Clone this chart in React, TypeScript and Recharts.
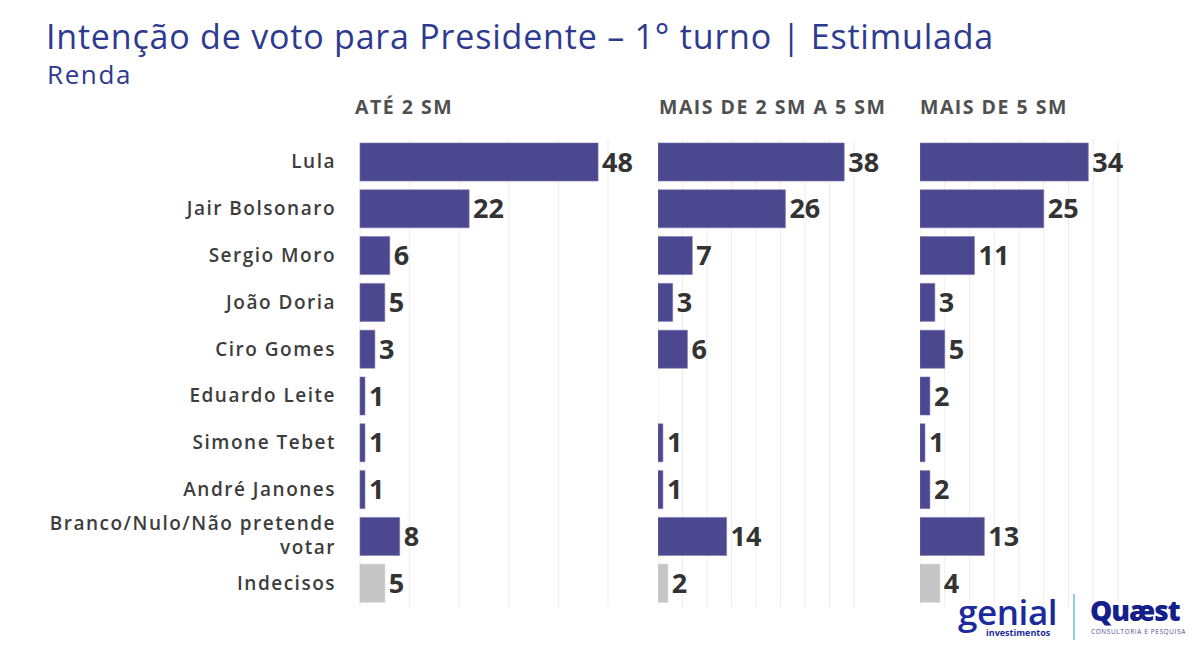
import React from "react"
import { Bar, BarChart, CartesianGrid, Cell, LabelList, XAxis, YAxis } from "recharts"

const candidates = [
  "Lula",
  "Jair Bolsonaro",
  "Sergio Moro",
  "João Doria",
  "Ciro Gomes",
  "Eduardo Leite",
  "Simone Tebet",
  "André Janones",
  "Branco/Nulo/Não pretende votar",
  "Indecisos",
]

const ate2sm = [48, 22, 6, 5, 3, 1, 1, 1, 8, 5]
const de2a5sm = [38, 26, 7, 3, 6, null, 1, 1, 14, 2]
const mais5sm = [34, 25, 11, 3, 5, 2, 1, 2, 13, 4]

const panelTitles = ["ATÉ 2 SM", "MAIS DE 2 SM A 5 SM", "MAIS DE 5 SM"]
const ticks10 = [0, 10, 20, 30, 40, 50]
const ticks5 = [0, 5, 10, 15, 20, 25, 30, 35, 40]

const BAR = "#4b4890"
const GRAY_BAR = "#c6c6c6"
const FONT = "'Open Sans', sans-serif"

const toRows = (values: (number | null)[]) =>
  candidates.map((name, i) => ({ name, value: values[i] }))

// category labels, the long one is split in two lines
function CandidateTick({ x, y, payload }: any) {
  const label: string = payload.value
  const style = { fontFamily: FONT, fontSize: 19, fontWeight: 600, fill: "#3d3d3d", letterSpacing: 1.5 }
  if (label.startsWith("Branco")) {
    return (
      <text x={x} y={y} textAnchor="end" style={style}>
        <tspan x={x} dy={-7}>Branco/Nulo/Não pretende</tspan>
        <tspan x={x} dy={24}>votar</tspan>
      </text>
    )
  }
  return (
    <text x={x} y={y} dy={6} textAnchor="end" style={style}>
      {label}
    </text>
  )
}

type PanelProps = {
  values: (number | null)[]
  max: number
  ticks: number[]
  plotWidth: number
  withLabels?: boolean
}

function Panel({ values, max, ticks, plotWidth, withLabels }: PanelProps) {
  const axisWidth = withLabels ? 360 : 0
  const rightMargin = 54
  const data = toRows(values)
  return (
    <BarChart
      layout="vertical"
      width={axisWidth + plotWidth + rightMargin}
      height={468}
      data={data}
      margin={{ top: 0, right: rightMargin, left: 0, bottom: 0 }}
    >
      <CartesianGrid horizontal={false} stroke="#ededed" />
      <XAxis type="number" domain={[0, max]} ticks={ticks} hide />
      <YAxis
        type="category"
        dataKey="name"
        width={axisWidth}
        hide={!withLabels}
        axisLine={false}
        tickLine={false}
        tickSize={0}
        tickMargin={24}
        interval={0}
        tick={<CandidateTick />}
      />
      <Bar dataKey="value" barSize={38} isAnimationActive={false} strokeWidth={0.6}>
        {data.map((d) => (
          <Cell key={d.name} fill={d.name === "Indecisos" ? GRAY_BAR : BAR} stroke={d.name === "Indecisos" ? GRAY_BAR : "#7773b0"} />
        ))}
        <LabelList
          dataKey="value"
          position="right"
          offset={4}
          formatter={(v: any) => (v == null ? "" : v)}
          style={{ fontFamily: FONT, fontSize: 27, fontWeight: 700, fill: "#333333" }}
        />
      </Bar>
    </BarChart>
  )
}

export default function App() {
  return (
    <div style={{ position: "absolute", left: 0, top: 0, width: 1200, height: 655, background: "#fff", overflow: "hidden" }}>
      <div style={{ position: "absolute", left: 46, top: 13, fontFamily: FONT, fontSize: 34, color: "#2e3a8f", whiteSpace: "nowrap", letterSpacing: 0.8 }}>
        Intenção de voto para Presidente – 1° turno | Estimulada
      </div>
      <div style={{ position: "absolute", left: 47, top: 56, fontFamily: FONT, fontSize: 26, color: "#2e3a8f", letterSpacing: 1.6 }}>Renda</div>

      {panelTitles.map((t, i) => (
        <div
          key={t}
          style={{
            position: "absolute",
            left: [355, 659, 920][i],
            top: 93,
            fontFamily: FONT,
            fontSize: 19.5,
            fontWeight: 700,
            color: "#505050",
            letterSpacing: 1.5,
            whiteSpace: "nowrap",
          }}
        >
          {t}
        </div>
      ))}

      <div style={{ position: "absolute", left: 0, top: 139 }}>
        <Panel values={ate2sm} max={50} ticks={ticks10} plotWidth={248} withLabels />
      </div>
      <div style={{ position: "absolute", left: 658, top: 139 }}>
        <Panel values={de2a5sm} max={40} ticks={ticks5} plotWidth={196} />
      </div>
      <div style={{ position: "absolute", left: 920, top: 139 }}>
        <Panel values={mais5sm} max={40} ticks={ticks5} plotWidth={198} />
      </div>

      {/* logos */}
      <svg style={{ position: "absolute", left: 950, top: 585 }} width={120} height={60}>
        <text fontFamily={FONT} fill="#1b2a9c">
          <tspan x={8} y={40} fontSize={35} fontWeight={600} letterSpacing={-0.4}>genial</tspan>
          <tspan x={36} y={51} fontSize={9} fontWeight={700}>investimentos</tspan>
        </text>
      </svg>
      <div style={{ position: "absolute", left: 1073, top: 594, width: 1.5, height: 46, background: "#8fd0d8" }} />
      <div style={{ position: "absolute", left: 1090, top: 597, fontFamily: FONT, fontSize: 28, fontWeight: 800, color: "#14208a", lineHeight: "26px", letterSpacing: -1 }}>
        Quæst
      </div>
      <div style={{ position: "absolute", left: 1091, top: 627, fontFamily: FONT, fontSize: 6.5, color: "#4a5290", letterSpacing: 0.6, whiteSpace: "nowrap", lineHeight: "9px" }}>
        CONSULTORIA E PESQUISA
      </div>
    </div>
  )
}
